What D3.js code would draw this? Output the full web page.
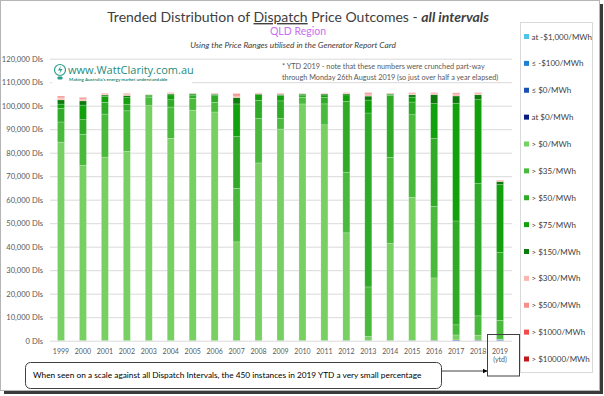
<!DOCTYPE html>
<html lang="en">
<head>
<meta charset="utf-8">
<title>QLD Dispatch Price Outcomes</title>
<script src="https://cdnjs.cloudflare.com/ajax/libs/d3/7.8.5/d3.min.js"></script>
<style>
  body { margin: 0; background: #fff; }
  svg { display: block; font-family: Lato, "Open Sans", sans-serif; }
</style>
</head>
<body>
<div id="chart"></div>
<script>
// years (categories)
const years = ["1999","2000","2001","2002","2003","2004","2005","2006","2007","2008","2009",
               "2010","2011","2012","2013","2014","2015","2016","2017","2018","2019"];

// dispatch interval counts per price band
const atNeg1000 = [3,0,0,0,0,0,0,0,0,0,0,0,0,0,0,0,0,0,0,0,20];
const leNeg100  = [10,8,5,4,0,2,0,0,6,3,4,2,3,5,3,4,10,12,30,15,60];
const le0       = [40,30,20,15,10,12,8,9,25,20,30,25,40,60,50,55,80,120,200,150,220];
const at0       = [30,20,15,10,8,9,6,7,20,15,20,18,30,40,35,40,60,80,120,100,150];
const gt0       = [84400,74500,78100,80500,100000,86100,98100,97300,42000,75600,90000,
                   100700,91800,45800,1700,41300,60800,26500,2100,2100,200];
const gt35      = [8600,13300,18300,17300,3400,13300,5000,4100,22800,18900,4500,
                   2800,8900,25800,21100,36600,35200,30400,4300,8200,8000];
const gt50      = [5800,6200,5000,2800,700,3100,1400,3100,22000,7700,7500,
                   1000,2700,30100,74000,26400,5400,28900,44200,56300,29000];
const gt75      = [1800,6200,2500,2800,400,2100,500,300,13900,2500,2300,
                   400,1100,2800,5500,500,2100,14900,50100,35700,28800];
const gt150     = [1800,1800,600,900,200,450,200,200,2700,300,500,
                   200,400,500,1700,200,1000,3800,3100,2100,1300];
const gt300     = [600,550,300,350,50,180,70,120,700,180,200,70,130,180,600,130,350,350,550,350,250];
const gt500     = [500,450,200,250,30,130,50,100,550,120,150,50,100,120,450,100,260,250,400,250,180];
const gt1000    = [400,350,150,200,20,100,30,80,400,90,120,30,70,90,320,70,200,200,300,200,130];
const gt10000   = [60,50,30,40,5,20,10,10,50,10,20,5,10,10,50,10,30,30,40,30,20];

const seriesNames = ["at -$1,000/MWh","≤ -$100/MWh","≤ $0/MWh","at $0/MWh","> $0/MWh","> $35/MWh",
                     "> $50/MWh","> $75/MWh","> $150/MWh","> $300/MWh","> $500/MWh","> $1000/MWh","> $10000/MWh"];
const seriesValues = [atNeg1000, leNeg100, le0, at0, gt0, gt35, gt50, gt75, gt150, gt300, gt500, gt1000, gt10000];
const seriesColors = ["#4fc3ea","#1f80d2","#1b4fb2","#0b1c82","#78cf62","#4aba3c",
                      "#30ab28","#12a00c","#0b7b0b","#f8b6ae","#f59089","#f04a4a","#c0191c"];
const yTicks = [0,10000,20000,30000,40000,50000,60000,70000,80000,90000,100000,110000,120000];

const width = 604;
const height = 396;
const marginLeft = 50;
const plotRight = 511;
const plotTop = 58.7;
const plotBottom = 340.7;

const svg = d3.select("#chart")
    .append("svg")
    .attr("width", width)
    .attr("height", height);

// outer frame with shadow
svg.append("rect").attr("x", 4).attr("y", 4).attr("width", 599).attr("height", 390).attr("fill", "#3a3a3a");
svg.append("rect").attr("x", 0.5).attr("y", 0.5).attr("width", 599).attr("height", 390)
    .attr("fill", "#fff").attr("stroke", "#b5b5b5");

// table for the stack
const table = years.map((y, i) => {
    const row = {year: y};
    seriesNames.forEach((s, k) => row[s] = seriesValues[k][i]);
    return row;
});
const stacked = d3.stack().keys(seriesNames)(table);

const xScale = d3.scaleBand()
    .domain(years)
    .range([marginLeft, plotRight])
    .paddingInner(0.68)
    .paddingOuter(0.34);

const yScale = d3.scaleLinear()
    .domain([0, 120000])
    .range([plotBottom, plotTop]);

// gridlines
svg.append("g")
    .attr("class", "grid")
    .attr("transform", "translate(" + marginLeft + ",0)")
    .call(d3.axisLeft(yScale).tickValues(yTicks).tickSize(-(plotRight + 1 - marginLeft)).tickFormat(""))
    .call(g => g.select(".domain").remove())
    .call(g => g.selectAll("line").attr("stroke", "#d9d9d9"));

// y axis labels
svg.append("g")
    .attr("class", "y-axis")
    .attr("transform", "translate(43,0)")
    .call(d3.axisLeft(yScale).tickValues(yTicks).tickSize(0).tickPadding(0)
        .tickFormat(d => d3.format(",")(d) + " DIs"))
    .call(g => g.select(".domain").remove())
    .call(g => g.selectAll("text").attr("fill", "#595959").style("font-size", "7.6px")
        .style("font-family", "Lato, sans-serif"));

// x axis labels
svg.append("g")
    .attr("class", "x-axis")
    .attr("transform", "translate(0," + plotBottom + ")")
    .call(d3.axisBottom(xScale).tickSize(0).tickPadding(8))
    .call(g => g.select(".domain").remove())
    .call(g => g.selectAll("text").attr("fill", "#595959").style("font-size", "7px")
        .style("font-family", "Lato, sans-serif"));

svg.append("text")
    .attr("x", xScale("2019") + xScale.bandwidth() / 2)
    .attr("y", 362)
    .attr("text-anchor", "middle")
    .attr("fill", "#595959")
    .style("font-size", "7px")
    .text("(ytd)");

// logo (white backing hides the gridline)
const logo = svg.append("g").attr("class", "logo");
logo.append("rect").attr("x", 52).attr("y", 61).attr("width", 140).attr("height", 30).attr("fill", "#fff");
logo.append("circle").attr("cx", 60).attr("cy", 70).attr("r", 5.5)
    .attr("fill", "none").attr("stroke", "#2a9e8a").attr("stroke-width", 1.2);
logo.append("path").attr("d", "M61,65.5 L58,70.5 L60.5,70.5 L59,74.5 L62.5,69 L60,69 Z").attr("fill", "#2a9e8a");
logo.append("rect").attr("x", 57.5).attr("y", 76.5).attr("width", 5).attr("height", 3).attr("rx", 1).attr("fill", "#2a9e8a");
logo.append("text").attr("x", 68).attr("y", 73.5)
    .attr("fill", "#1f8c7b").style("font-size", "11px").style("font-family", "'Open Sans', sans-serif")
    .text("www.WattClarity.com.au");
logo.append("text").attr("x", 69).attr("y", 81)
    .attr("fill", "#1f8c7b").style("font-size", "4.5px").style("font-weight", "bold")
    .text("Making Australia's energy market understandable");

// YTD note
const note = svg.append("g").attr("class", "note").attr("fill", "#595959").style("font-size", "7.3px");
note.append("text").attr("x", 282).attr("y", 68.5)
    .text("*  YTD 2019 - note that these numbers were crunched part-way");
note.append("text").attr("x", 282).attr("y", 80)
    .text("through Monday 26th August 2019 (so just over half a year elapsed)");

// stacked bars
svg.append("g")
    .attr("class", "bars")
    .selectAll("g")
    .data(stacked)
    .enter()
    .append("g")
    .attr("fill", (d, k) => seriesColors[k])
    .selectAll("rect")
    .data(d => d)
    .enter()
    .append("rect")
        .attr("x", d => xScale(d.data.year))
        .attr("y", d => yScale(d[1]))
        .attr("width", xScale.bandwidth())
        .attr("height", d => Math.max(0, yScale(d[0]) - yScale(d[1])))
        .attr("stroke", "rgba(255,255,255,0.35)")
        .attr("stroke-width", 0.6);

// titles
const title = svg.append("text")
    .attr("x", 298)
    .attr("y", 22)
    .attr("text-anchor", "middle")
    .attr("fill", "#404040")
    .style("font-size", "14px");
title.append("tspan").text("Trended Distribution of ");
title.append("tspan").attr("text-decoration", "underline").text("Dispatch");
title.append("tspan").text(" Price Outcomes - ");
title.append("tspan").style("font-weight", "bold").style("font-style", "italic").text("all intervals");

svg.append("text")
    .attr("x", 298).attr("y", 35)
    .attr("text-anchor", "middle")
    .attr("fill", "#cc6ff0")
    .style("font-size", "10.5px")
    .text("QLD Region");

svg.append("text")
    .attr("x", 293).attr("y", 48)
    .attr("text-anchor", "middle")
    .attr("fill", "#404040")
    .style("font-size", "8.3px")
    .style("font-style", "italic")
    .text("Using the Price Ranges utilised in the Generator Report Card");

// legend
const legend = svg.append("g").attr("class", "legend");
legend.append("rect").attr("x", 520.5).attr("y", 22.5).attr("width", 72).attr("height", 350)
    .attr("fill", "#fff").attr("stroke", "#d9d9d9");
const legendY = d3.scalePoint().domain(seriesNames).range([36.5, 359]);
const items = legend.selectAll("g.item")
    .data(seriesNames)
    .enter()
    .append("g")
    .attr("class", "item")
    .attr("transform", d => "translate(524," + legendY(d) + ")");
items.append("rect").attr("x", 0).attr("y", -2.5).attr("width", 5).attr("height", 5)
    .attr("fill", (d, k) => seriesColors[k]);
items.append("text").attr("x", 7.5).attr("y", 3)
    .attr("fill", "#404040").style("font-size", "8px")
    .text(d => d);

// callout
svg.append("rect").attr("x", 25.5).attr("y", 362.5).attr("width", 416).attr("height", 26).attr("rx", 5)
    .attr("fill", "#fff").attr("stroke", "#404040");
svg.append("text").attr("x", 33).attr("y", 378)
    .attr("fill", "#000").style("font-size", "8.3px")
    .text("When seen on a  scale against all Dispatch Intervals, the 450 instances in 2019 YTD a very small percentage");
svg.append("defs").append("marker")
    .attr("id", "arrow").attr("viewBox", "0 0 10 10").attr("refX", 9).attr("refY", 5)
    .attr("markerWidth", 5).attr("markerHeight", 5).attr("orient", "auto")
    .append("path").attr("d", "M0,0 L10,5 L0,10 Z").attr("fill", "#000");
svg.append("line").attr("x1", 441.5).attr("y1", 371).attr("x2", 487).attr("y2", 371)
    .attr("stroke", "#404040").attr("marker-end", "url(#arrow)");
svg.append("rect").attr("x", 487.5).attr("y", 334.5).attr("width", 32).attr("height", 41.5)
    .attr("fill", "none").attr("stroke", "#404040");
</script>
</body>
</html>
